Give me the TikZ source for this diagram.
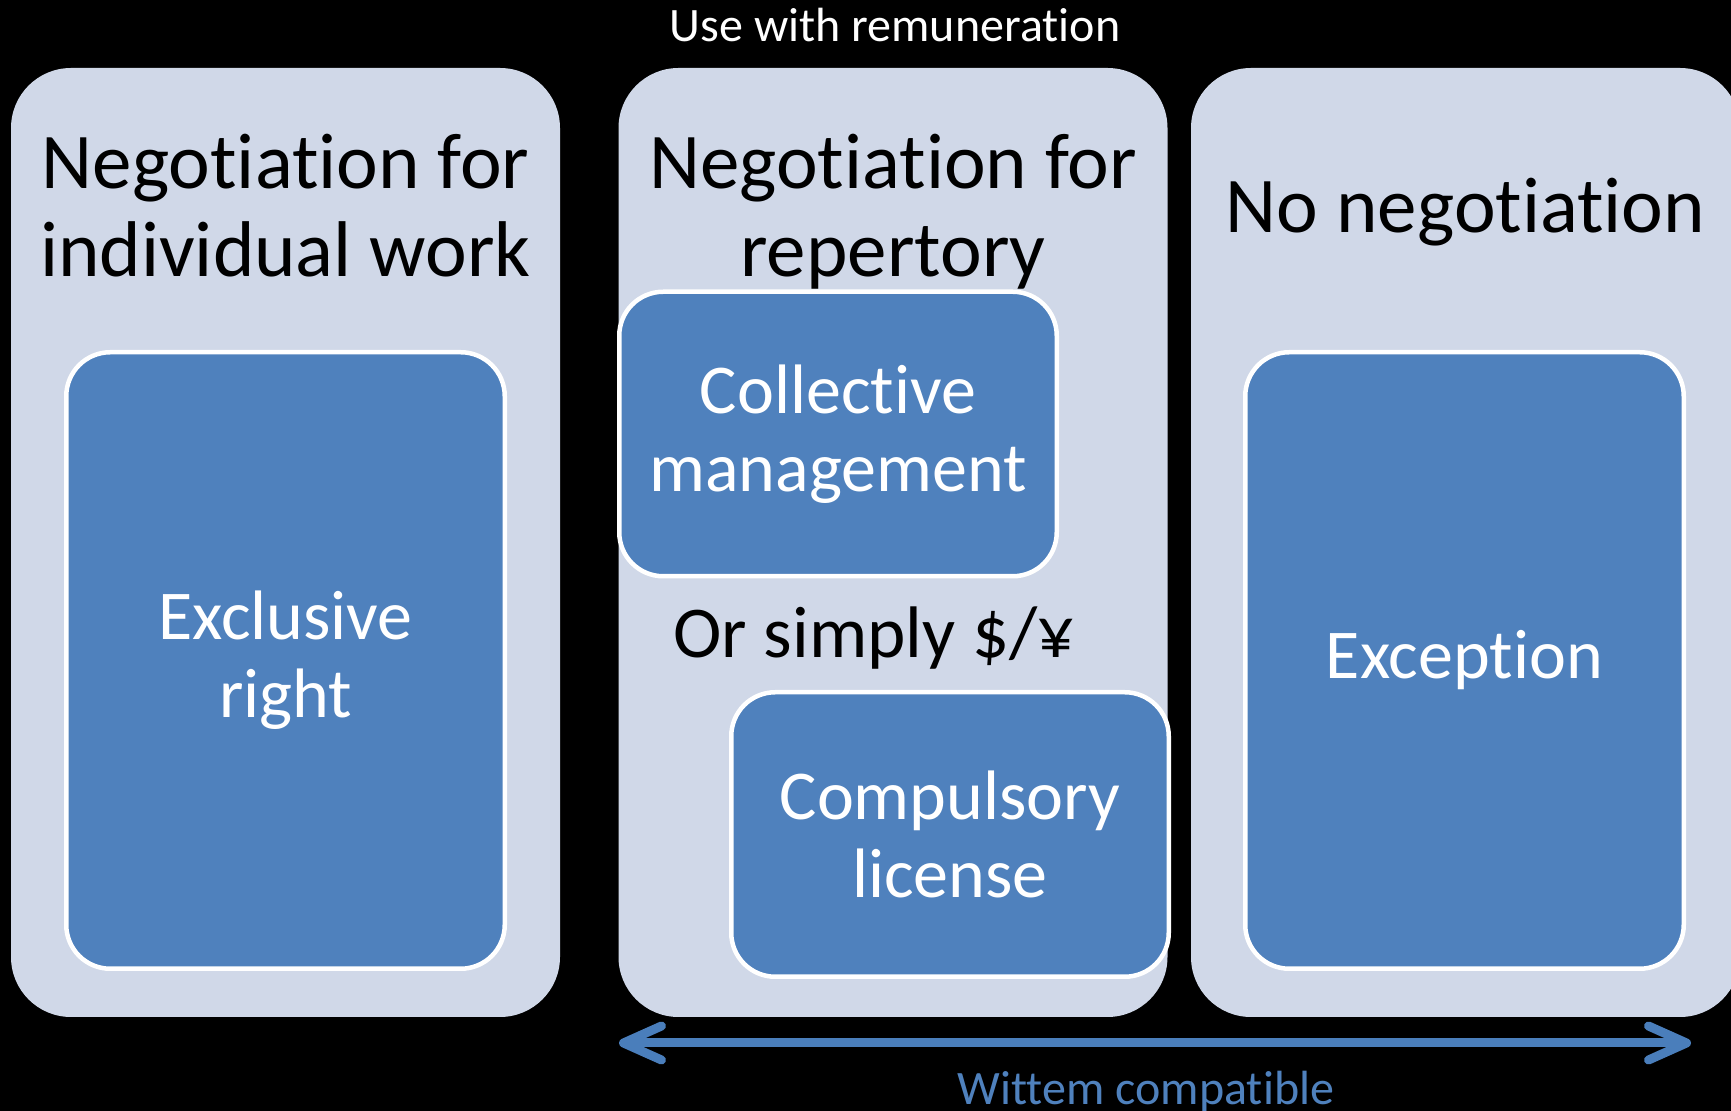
\documentclass[tikz,border=0pt]{standalone}
\usepackage{fontspec}
\setmainfont{Carlito}[Ligatures=NoCommon]
\usetikzlibrary{positioning,arrows.meta}

\definecolor{panelfill}{HTML}{D0D8E8}
\definecolor{boxfill}{HTML}{4F81BD}
\definecolor{arrowblue}{HTML}{4A7EBB}

\tikzset{
  panel/.style={fill=panelfill, rounded corners=30pt, inner sep=0pt,
    minimum width=274.5pt, minimum height=474.5pt},
  tallbox/.style={fill=boxfill, draw=white, line width=2.25pt, rounded corners=22pt,
    minimum width=219.25pt, minimum height=308.25pt, inner sep=0pt, align=center,
    text=white, font=\fontsize{35}{39}\selectfont},
  flatbox/.style={tallbox, minimum height=142.25pt, minimum width=218.75pt},
  title/.style={align=center, inner sep=0pt, font=\fontsize{39.5}{44}\selectfont},
  small/.style={inner sep=0pt, font=\fontsize{24}{28}\selectfont},
  wittem/.style={draw=arrowblue, line width=4.5pt,
    {Straight Barb[length=19pt,width=17pt,round]}-{Straight Barb[length=19pt,width=17pt,round]}},
}

\begin{document}
\begin{tikzpicture}[x=0.5pt, y=-0.5pt]

  % Background
  \useasboundingbox (0,0) rectangle (1731,1111);
  \fill[black] (0,0) rectangle (1731,1111);
  \clip (0,0) rectangle (1731,1111);

  % Panels
  \node[panel] (pl) at (285.5,542.5) {} ; %
  \node[panel] (pm) at (893,542.5)   {} ; %
  \node[panel] (pr) at (1465.5,542.5) {} ; %

  % Panel titles
  \node[title, anchor=base] (tl) at (285.5,277) {Negotiation for\\individual work} ; %
  \node[title, anchor=base] (tm) at (893,277)   {Negotiation for\\repertory} ; %
  \node[title, anchor=base] (tr) at (1465.5,233) {No negotiation} ; %

  % Boxes
  \node[tallbox] (excl) at (285.5,660.5) {Exclusive\\right} ; %
  \node[flatbox] (coll) at (838,434)     {Collective\\management} ; %
  \node[flatbox] (comp) at (950,834.5)   {Compulsory\\license} ; %
  \node[tallbox] (exc)  at (1464.5,660.5) {Exception} ; %

  % Middle remark
  \node[inner sep=0pt, anchor=base, font=\fontsize{36.5}{40}\selectfont] (cash) at (874,658) {Or simply \$/¥} ; %

  % Top caption
  \node[small, text=white, anchor=base] (rem) at (895,42) {Use with remuneration} ; %

  % Wittem arrow
  \coordinate (wl) at (619,1043) ; %
  \coordinate (wr) at (1691,1043) ; %
  \draw[wittem] (wl) -- (wr) ; %
  \node[small, text=boxfill, anchor=base] (wc) at (1146,1104) {Wittem compatible} ; %

\end{tikzpicture}
\end{document}
